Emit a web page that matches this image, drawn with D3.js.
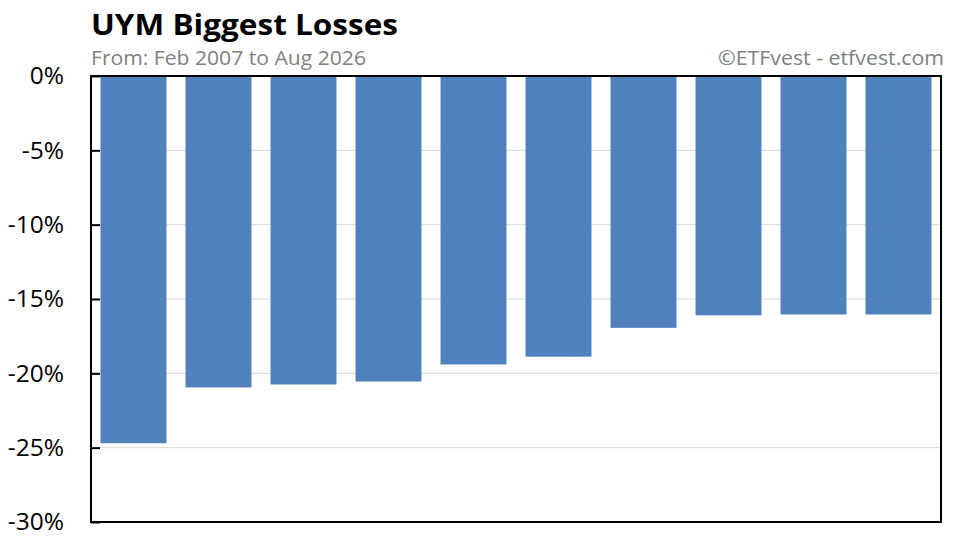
<!DOCTYPE html>
<html>
<head>
<meta charset="utf-8">
<script src="https://cdn.jsdelivr.net/npm/d3@7"></script>
<style>
  body { margin: 0; background: #fff; }
  text { font-family: "Open Sans", "Liberation Sans", sans-serif; }
</style>
</head>
<body>
<svg id="chart" width="965" height="543"></svg>
<script>
// loss per drawdown, biggest first (percent)
var ranks = ["1", "2", "3", "4", "5", "6", "7", "8", "9", "10"];
var losses = [-24.7, -20.95, -20.75, -20.55, -19.4, -18.88, -16.94, -16.1, -16.04, -16.04];
var yTicks = [0, -5, -10, -15, -20, -25, -30];

var svg = d3.select("#chart");
var margin = { top: 76, right: 24, bottom: 21, left: 91 };
var width = 965 - margin.left - margin.right;
var height = 543 - margin.top - margin.bottom;

var x = d3.scaleBand()
    .domain(ranks)
    .range([0, width])
    .paddingInner(0.224)
    .paddingOuter(0.112);

var y = d3.scaleLinear()
    .domain([0, -30])
    .range([0, height]);

var g = svg.append("g")
    .attr("transform", "translate(" + margin.left + "," + margin.top + ")");

// gridlines
g.selectAll(".grid")
    .data(yTicks.slice(1, -1))
    .enter()
    .append("line")
    .attr("x1", 0)
    .attr("x2", width)
    .attr("y1", d => y(d))
    .attr("y2", d => y(d))
    .attr("stroke", "#d9d9d9")
    .attr("stroke-width", 1);

// bars
g.selectAll(".bar")
    .data(losses)
    .enter()
    .append("rect")
    .attr("x", (d, i) => x(ranks[i]))
    .attr("y", y(0))
    .attr("width", x.bandwidth())
    .attr("height", d => y(d) - y(0))
    .attr("fill", "#4f81bd");

// y axis with inward ticks
var yAxis = d3.axisLeft(y)
    .tickValues(yTicks)
    .tickSize(-9)
    .tickPadding(27)
    .tickFormat(d => d + "%");

g.append("g")
    .call(yAxis)
    .call(a => a.select(".domain").remove())
    .call(a => a.selectAll(".tick line").attr("stroke", "#000").attr("stroke-width", 2))
    .call(a => a.selectAll(".tick text")
        .attr("fill", "#000")
        .style("font-size", "24.5px"));

// frame
g.append("rect")
    .attr("x", 0)
    .attr("y", 0)
    .attr("width", width)
    .attr("height", height)
    .attr("fill", "none")
    .attr("stroke", "#000")
    .attr("stroke-width", 2);

// titles
svg.append("text")
    .attr("x", 91)
    .attr("y", 35)
    .attr("textLength", 307)
    .attr("lengthAdjust", "spacingAndGlyphs")
    .text("UYM Biggest Losses")
    .style("font-size", "29px")
    .style("font-weight", "bold")
    .attr("fill", "#000");

svg.append("text")
    .attr("x", 91)
    .attr("y", 64.5)
    .attr("textLength", 275)
    .attr("lengthAdjust", "spacingAndGlyphs")
    .text("From: Feb 2007 to Aug 2026")
    .style("font-size", "19.5px")
    .attr("fill", "#808080");

svg.append("text")
    .attr("x", 944)
    .attr("y", 64.5)
    .attr("text-anchor", "end")
    .attr("textLength", 226)
    .attr("lengthAdjust", "spacingAndGlyphs")
    .text("\u00a9ETFvest - etfvest.com")
    .style("font-size", "19.5px")
    .attr("fill", "#808080");
</script>
</body>
</html>
